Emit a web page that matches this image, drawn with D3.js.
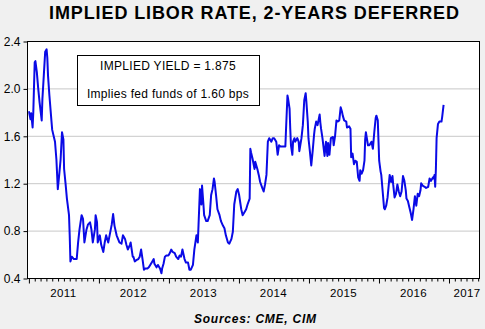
<!DOCTYPE html>
<html>
<head>
<meta charset="utf-8">
<script src="https://cdn.jsdelivr.net/npm/d3@7"></script>
<style>
  html, body { margin: 0; padding: 0; background: #f0f0f0; }
  svg { display: block; }
  text { font-family: "Liberation Sans", Arial, sans-serif; }
</style>
</head>
<body>
<svg id="chart" width="485" height="329"></svg>
<script>
// ---- data (decimal year, implied rate %) ----
const dates = [
2011.00,2011.01,2011.03,2011.04,2011.06,2011.07,2011.09,2011.10,2011.12,2011.14,2011.16,2011.19,2011.20,2011.22,2011.24,2011.26,2011.27,2011.28,2011.30,2011.33,
2011.34,2011.38,2011.40,2011.42,2011.44,2011.46,2011.48,2011.50,2011.51,2011.53,2011.55,2011.58,2011.59,2011.60,2011.62,2011.65,2011.69,2011.71,2011.73,2011.76,
2011.78,2011.80,2011.83,2011.85,2011.88,2011.90,2011.92,2011.95,2011.96,2011.98,2011.99,2012.02,2012.04,2012.07,2012.09,2012.11,2012.14,2012.16,2012.19,2012.21,
2012.23,2012.26,2012.28,2012.30,2012.33,2012.35,2012.38,2012.40,2012.42,2012.45,2012.46,2012.49,2012.50,2012.52,2012.54,2012.57,2012.59,2012.61,2012.63,2012.65,
2012.67,2012.70,2012.72,2012.74,2012.77,2012.79,2012.80,2012.83,2012.85,2012.88,2012.90,2012.91,2012.93,2012.95,2012.97,2013.00,2013.02,2013.04,2013.06,2013.09,
2013.11,2013.14,2013.16,2013.18,2013.20,2013.23,2013.25,2013.28,2013.30,2013.32,2013.35,2013.37,2013.40,2013.42,2013.43,2013.45,2013.47,2013.48,2013.50,2013.51,
2013.54,2013.56,2013.59,2013.61,2013.63,2013.65,2013.66,2013.68,2013.70,2013.73,2013.75,2013.78,2013.80,2013.82,2013.85,2013.87,2013.90,2013.92,2013.94,2013.97,
2013.99,2014.01,2014.04,2014.06,2014.09,2014.11,2014.13,2014.16,2014.17,2014.18,2014.20,2014.23,2014.24,2014.27,2014.29,2014.31,2014.34,2014.36,2014.38,2014.40,
2014.41,2014.42,2014.44,2014.47,2014.49,2014.51,2014.54,2014.56,2014.58,2014.60,2014.63,2014.67,2014.68,2014.70,2014.71,2014.73,2014.74,2014.75,2014.77,2014.78,
2014.80,2014.81,2014.84,2014.86,2014.87,2014.90,2014.92,2014.94,2014.96,2014.97,2014.99,2015.00,2015.02,2015.04,2015.06,2015.08,2015.09,2015.11,2015.13,2015.16,
2015.17,2015.18,2015.20,2015.23,2015.25,2015.27,2015.28,2015.30,2015.32,2015.35,2015.36,2015.38,2015.40,2015.42,2015.44,2015.46,2015.48,2015.49,2015.51,2015.54,
2015.55,2015.58,2015.60,2015.61,2015.63,2015.65,2015.67,2015.69,2015.71,2015.73,2015.74,2015.76,2015.78,2015.80,2015.81,2015.82,2015.85,2015.87,2015.90,2015.92,
2015.94,2015.96,2015.97,2015.99,2016.00,2016.01,2016.03,2016.04,2016.06,2016.08,2016.09,2016.11,2016.13,2016.16,2016.18,2016.20,2016.21,2016.23,2016.25,2016.27,
2016.29,2016.31,2016.33,2016.35,2016.37,2016.39,2016.40,2016.42,2016.44,2016.46,2016.48,2016.50,2016.52,2016.54,2016.56,2016.58,2016.60,2016.61,2016.63,2016.66,
2016.68,2016.71,2016.73,2016.75,2016.78,2016.79,2016.80,2016.81,2016.82,2016.83,2016.85,2016.87,2016.90,2016.91,2016.93
];
const values = [
1.80,1.80,1.74,1.79,1.67,1.80,2.22,2.23,2.14,2.00,1.88,1.73,1.91,2.11,2.31,2.33,2.26,2.11,1.94,1.72,
1.65,1.55,1.40,1.15,1.27,1.40,1.63,1.57,1.32,1.20,1.07,0.93,0.76,0.54,0.58,0.56,0.56,0.70,0.81,0.93,
0.90,0.70,0.81,0.85,0.87,0.81,0.70,0.81,0.93,0.87,0.70,0.76,0.68,0.62,0.70,0.76,0.70,0.76,0.85,0.94,
0.84,0.76,0.73,0.70,0.69,0.76,0.73,0.68,0.64,0.68,0.70,0.58,0.58,0.54,0.55,0.56,0.58,0.64,0.56,0.47,
0.48,0.48,0.49,0.51,0.54,0.56,0.52,0.49,0.51,0.48,0.44,0.48,0.52,0.58,0.59,0.59,0.61,0.64,0.62,0.61,
0.58,0.56,0.59,0.58,0.64,0.56,0.53,0.53,0.47,0.47,0.51,0.64,0.76,0.70,0.85,1.15,1.02,1.18,1.02,0.93,
0.88,0.88,0.93,1.10,1.15,1.24,1.21,1.10,0.98,0.93,0.88,0.84,0.82,0.76,0.70,0.69,0.73,0.79,1.02,1.13,
1.15,1.10,0.98,0.93,0.96,0.98,1.02,1.07,1.49,1.46,1.41,1.32,1.38,1.32,1.27,1.21,1.16,1.13,1.19,1.27,
1.41,1.55,1.58,1.55,1.58,1.58,1.55,1.44,1.52,1.51,1.51,1.51,1.66,1.94,1.91,1.83,1.66,1.52,1.44,1.55,
1.58,1.55,1.58,1.55,1.47,1.58,1.69,1.90,1.96,1.89,1.72,1.58,1.47,1.35,1.47,1.61,1.66,1.72,1.69,1.78,
1.71,1.66,1.58,1.43,1.55,1.43,1.54,1.44,1.58,1.59,1.52,1.60,1.73,1.72,1.73,1.84,1.80,1.77,1.73,1.72,
1.67,1.68,1.66,1.42,1.45,1.36,1.39,1.38,1.25,1.22,1.31,1.28,1.31,1.39,1.57,1.63,1.52,1.52,1.55,1.49,
1.63,1.75,1.77,1.73,1.56,1.39,1.30,1.27,1.13,0.99,0.98,1.01,1.08,1.27,1.21,1.26,1.19,1.08,1.11,1.19,
1.13,1.09,1.13,1.26,1.22,1.14,1.07,1.05,1.00,0.95,0.89,0.98,1.09,1.01,1.11,1.09,1.14,1.20,1.18,1.17,
1.16,1.17,1.24,1.22,1.25,1.24,1.27,1.17,1.32,1.58,1.70,1.72,1.72,1.76,1.86
];
const yTicks = [0.4, 0.8, 1.2, 1.6, 2.0, 2.4];
const gridValues = [0.8, 1.2, 1.6, 2.0];
const yearLabels = [2011, 2012, 2013, 2014, 2015, 2016, 2017];
const titleText = "IMPLIED LIBOR RATE, 2-YEARS DEFERRED";
const noteLines = ["IMPLIED YIELD = 1.875", "Implies fed funds of 1.60 bps"];
const sourceText = "Sources:  CME, CIM";

// ---- layout ----
const svg = d3.select("#chart");
const pLeft = 27, pRight = 480, pTop = 41, pBottom = 278;

const x = d3.scaleLinear().domain([2010.98, 2017.45]).range([pLeft, pRight]);
const y = d3.scaleLinear().domain([0.4, 2.4]).range([pBottom, pTop]);

// plot background
svg.append("rect").attr("x", pLeft).attr("y", pTop)
  .attr("width", pRight - pLeft).attr("height", pBottom - pTop)
  .attr("fill", "#ffffff");

// gridlines
svg.append("g").selectAll("line").data(gridValues).join("line")
  .attr("x1", pLeft).attr("x2", pRight)
  .attr("y1", d => y(d) + 0.5).attr("y2", d => y(d) + 0.5)
  .attr("stroke", "#c8c8c8").attr("stroke-width", 1);

// line
const line = d3.line().x((d, i) => x(dates[i])).y(d => y(d));
svg.append("path").datum(values)
  .attr("d", line)
  .attr("fill", "none")
  .attr("stroke", "#0a0ae6")
  .attr("stroke-width", 2)
  .attr("stroke-linejoin", "round");

// frame
svg.append("rect").attr("x", pLeft + 0.5).attr("y", pTop + 0.5)
  .attr("width", pRight - pLeft - 1).attr("height", pBottom - pTop)
  .attr("fill", "none").attr("stroke", "#000").attr("stroke-width", 1);

// y axis
const yAxis = d3.axisLeft(y).tickValues(yTicks).tickFormat(d3.format(".1f"))
  .tickSize(4).tickPadding(3);
const gy = svg.append("g").attr("transform", `translate(${pLeft + 0.5},0.5)`).call(yAxis);
gy.select(".domain").remove();
gy.selectAll("text").attr("font-size", 12).attr("fill", "#000")
  .style("font-family", "'Liberation Sans', Arial, sans-serif");

// x axis: monthly minor ticks, yearly major ticks
const monthTicks = d3.range(0, Math.floor((2017.45 - 2011) * 12) + 1).map(m => 2011 + m / 12);
const xMinor = d3.axisBottom(x).tickValues(monthTicks.filter((d, i) => i % 12 !== 0))
  .tickSize(3).tickFormat("");
const gxm = svg.append("g").attr("transform", `translate(0.5,${pBottom + 0.5})`).call(xMinor);
gxm.select(".domain").remove();
const xMajor = d3.axisBottom(x).tickValues(yearLabels).tickSize(5).tickFormat("");
const gxM = svg.append("g").attr("transform", `translate(0.5,${pBottom + 0.5})`).call(xMajor);
gxM.select(".domain").remove();

// year labels centered on each year span
svg.append("g").selectAll("text").data(yearLabels).join("text")
  .attr("x", d => Math.min(x(d + 0.5), pRight - 13))
  .attr("y", 297)
  .attr("text-anchor", "middle")
  .attr("font-size", 11.5)
  .attr("letter-spacing", 0.4)
  .attr("fill", "#000")
  .text(d => d);

// title
svg.append("text").attr("x", 254).attr("y", 19)
  .attr("text-anchor", "middle")
  .attr("font-size", 18).attr("font-weight", "bold")
  .attr("textLength", 410).attr("lengthAdjust", "spacing")
  .text(titleText);

// annotation box
svg.append("rect").attr("x", 77.5).attr("y", 55.5).attr("width", 182).attr("height", 50)
  .attr("fill", "#ffffff").attr("stroke", "#000").attr("stroke-width", 1);
svg.append("g").selectAll("text").data(noteLines).join("text")
  .attr("x", 168).attr("y", (d, i) => 70 + i * 28)
  .attr("text-anchor", "middle")
  .attr("font-size", 12)
  .attr("letter-spacing", 0.3)
  .text(d => d);

// sources
svg.append("text").attr("x", 255).attr("y", 323)
  .attr("text-anchor", "middle")
  .attr("font-size", 12).attr("font-weight", "bold").attr("font-style", "italic")
  .attr("textLength", 122).attr("lengthAdjust", "spacing")
  .text(sourceText);
</script>
</body>
</html>
